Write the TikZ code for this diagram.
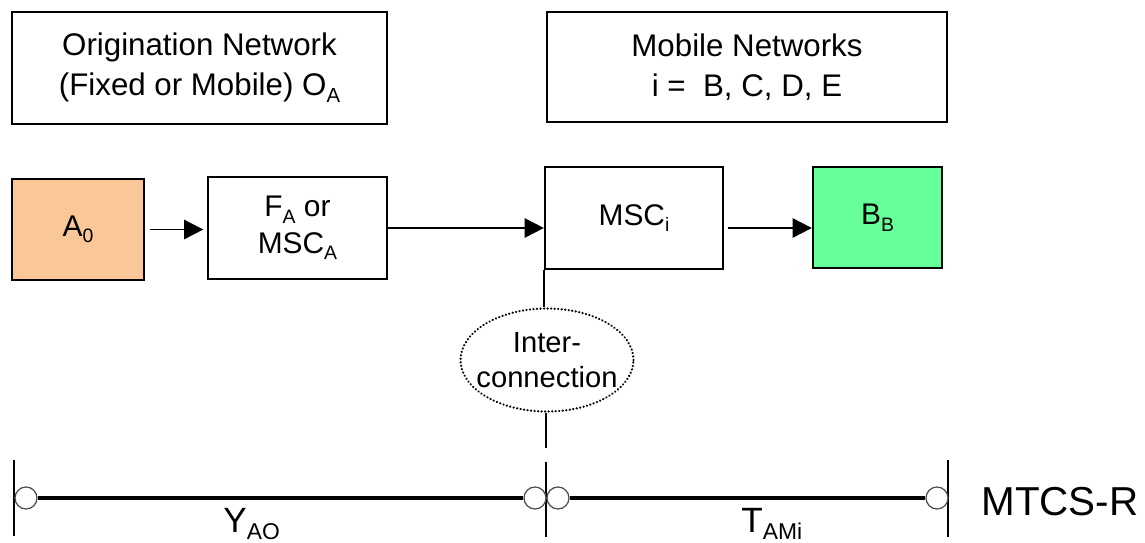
\documentclass[tikz,border=0pt]{standalone}
\usepackage{fontspec}
\setmainfont{Liberation Sans}
\usetikzlibrary{arrows.meta,shapes.geometric}
\definecolor{origfill}{RGB}{250,200,152}
\definecolor{destfill}{RGB}{102,255,153}
\newcommand{\lowidx}[1]{\raisebox{-0.22em}{\scalebox{0.65}{#1}}}
\tikzset{
netbox/.style={draw, line width=1.5pt, align=center, inner sep=0pt, font=\fontsize{17.8}{22.8}\selectfont},
unitbox/.style={draw, line width=1.3pt, align=center, inner sep=0pt, font=\fontsize{17}{20.5}\selectfont},
flow/.style={-{Triangle[length=11pt,width=11pt]}, line width=1.1pt},
link/.style={line width=1.1pt},
tickline/.style={line width=1.1pt},
endring/.style={circle, draw=black!70, line width=0.7pt, fill=white, minimum size=0.44cm, inner sep=0pt},
spanline/.style={line width=2.3pt},
}

\begin{document}
\begin{tikzpicture}[x=0.02cm, y=-0.02cm]
\useasboundingbox (0,0) rectangle (1145,542);

% network boxes
\node[netbox, minimum width=7.5cm, minimum height=2.24cm] (orig) at (199.5,68) {Origination Network\\(Fixed or Mobile) O\lowidx{A}};
\node[netbox, minimum width=8cm, minimum height=2.2cm] (mob) at (747,67) {Mobile Networks\\i = \ B, C, D, E};

% call path
\node[unitbox, fill=origfill, minimum width=2.64cm, minimum height=2.02cm] (a0) at (78,229.5) {A\lowidx{0}};
\node[unitbox, minimum width=3.58cm, minimum height=2.04cm] (fa) at (297.5,228) {F\lowidx{A} or\\MSC\lowidx{A}};
\node[unitbox, minimum width=3.56cm, minimum height=2.04cm] (msc) at (634,218) {MSC\lowidx{i}};
\node[unitbox, fill=destfill, minimum width=2.58cm, minimum height=2.02cm] (bb) at (877.5,217.5) {B\lowidx{B}};

\draw[flow, shorten <=3pt, shorten >=2pt] (a0.east) -- (a0.east -| fa.west);
\draw[flow] (fa.east) -- (fa.east -| msc.west);
\draw[flow, shorten <=2pt] (msc.east |- fa.east) -- (bb.west |- fa.east);

% interconnection
\node[ellipse, draw, line width=1.4pt, dash pattern=on 0.01pt off 2pt, line cap=round, minimum width=3.46cm, minimum height=2.06cm, inner sep=0pt, align=center, font=\fontsize{16.6}{20}\selectfont] (ic) at (547,360) {\makebox[0pt]{Inter-}\\\makebox[0pt]{connection}};
\coordinate (icend) at (546,448);
\draw[link] (msc.south west) -- (ic.north -| msc.south west);
\draw[link] (ic.south -| icend) -- (icend);

% MTCS-R axis
\draw[tickline] (14,460) -- (14,536);
\draw[tickline] (546,462) -- (546,537);
\draw[tickline] (948,460) -- (948,537);
\node[endring] (r1) at (26,498) {};
\node[endring] (r2) at (535,498) {};
\node[endring] (r3) at (558,498) {};
\node[endring] (r4) at (937,498) {};
\draw[spanline] (r1) -- (r2);
\draw[spanline, line width=2pt] (r3) -- (r4);

\node[anchor=base west, inner sep=0pt, font=\fontsize{20}{24}\selectfont] (yao) at (223,532) {Y\lowidx{AO}};
\node[anchor=base west, inner sep=0pt, font=\fontsize{20}{24}\selectfont] (tami) at (741,532) {T\lowidx{AMi}};
\node[anchor=base west, inner sep=0pt, font=\fontsize{23}{27}\selectfont] (mtcs) at (981,515) {MTCS-R};

\end{tikzpicture}
\end{document}
